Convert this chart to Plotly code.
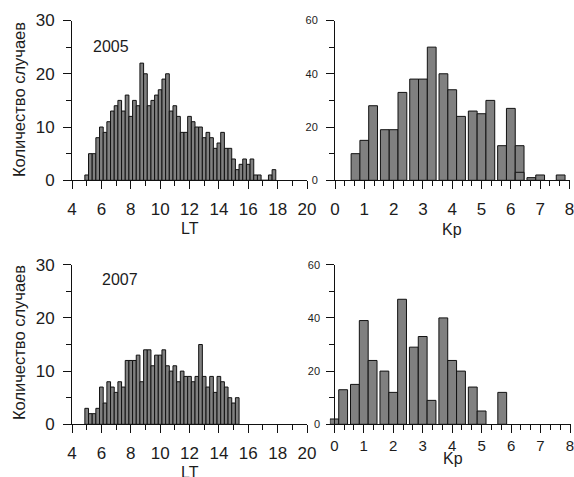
import plotly.graph_objects as go

# ---------------- data ----------------
lt_2005_x = [5.0, 5.25, 5.5, 5.75, 6.0, 6.25, 6.5, 6.75, 7.0, 7.25, 7.5, 7.75,
             8.0, 8.25, 8.5, 8.75, 9.0, 9.25, 9.5, 9.75, 10.0, 10.25, 10.5, 10.75,
             11.0, 11.25, 11.5, 11.75, 12.0, 12.25, 12.5, 12.75, 13.0, 13.25, 13.5, 13.75,
             14.0, 14.25, 14.5, 14.75, 15.0, 15.25, 15.5, 15.75, 16.0, 16.25, 16.5, 16.75,
             17.0, 17.25, 17.5, 17.75]
lt_2005_counts = [1, 5, 5, 8, 10, 9, 11, 13, 14, 15, 13, 16,
                  12, 15, 14, 22, 20, 14, 15, 16, 17, 19, 20, 13,
                  14, 12, 9, 9, 12, 11, 10, 10, 8, 9, 8, 6,
                  7, 9, 6, 6, 4, 2, 3, 4, 3, 4, 1, 1,
                  0, 0, 1, 2]

lt_2007_x = [5.0, 5.25, 5.5, 5.75, 6.0, 6.25, 6.5, 6.75, 7.0, 7.25, 7.5, 7.75,
             8.0, 8.25, 8.5, 8.75, 9.0, 9.25, 9.5, 9.75, 10.0, 10.25, 10.5, 10.75,
             11.0, 11.25, 11.5, 11.75, 12.0, 12.25, 12.5, 12.75, 13.0, 13.25, 13.5, 13.75,
             14.0, 14.25, 14.5, 14.75, 15.0, 15.25]
lt_2007_counts = [3, 2, 2, 3, 7, 4, 8, 7, 6, 8, 7, 12,
                  12, 12, 13, 8, 14, 14, 11, 13, 13, 14, 11, 10,
                  11, 8, 10, 9, 9, 8, 9, 15, 9, 7, 9, 6,
                  9, 8, 7, 5, 4, 5]

kp_2005_x = [0.7, 1.0, 1.3, 1.7, 2.0, 2.3, 2.7, 3.0, 3.3, 3.7, 4.0, 4.3,
             4.7, 5.0, 5.3, 5.7, 6.0, 6.3, 6.7, 7.0, 7.7]
kp_2005_counts = [10, 15, 28, 19, 19, 33, 38, 38, 50, 40, 34, 24,
                  26, 25, 30, 13, 27, 13, 1, 2, 2]
kp_2005_extra_x = [6.3]
kp_2005_extra_counts = [3]

kp_2007_x = [0.0, 0.3, 0.7, 1.0, 1.3, 1.7, 2.0, 2.3, 2.7, 3.0, 3.3, 3.7,
             4.0, 4.3, 4.7, 5.0, 5.7]
kp_2007_counts = [2, 13, 15, 39, 24, 20, 12, 47, 29, 33, 9, 40,
                  24, 20, 14, 5, 12]

lt_ticks = [4, 6, 8, 10, 12, 14, 16, 18, 20]
kp_ticks = [0, 1, 2, 3, 4, 5, 6, 7, 8]
y_title = "Количество случаев"
x_title_lt = "LT"
x_title_kp = "Kp"
years = ["2005", "2007"]

# ---------------- style ----------------
W, H = 574, 477
FILL = "#808080"
EDGE = "#111111"
TXT = "#1c1c1c"
FONT = "Liberation Sans, Arial, sans-serif"


def px(x):
    return x / W


def py(y):
    return 1 - y / H


bar_style = dict(marker=dict(color=FILL, line=dict(color=EDGE, width=1)), showlegend=False,
                 hoverinfo="x+y")

fig = go.Figure()
fig.add_trace(go.Bar(x=lt_2005_x, y=lt_2005_counts, width=0.25, xaxis="x", yaxis="y", **bar_style))
fig.add_trace(go.Bar(x=kp_2005_x, y=kp_2005_counts, width=0.3, xaxis="x2", yaxis="y2", **bar_style))
fig.add_trace(go.Bar(x=kp_2005_extra_x, y=kp_2005_extra_counts, width=0.3, xaxis="x2", yaxis="y2", **bar_style))
fig.add_trace(go.Bar(x=lt_2007_x, y=lt_2007_counts, width=0.25, xaxis="x3", yaxis="y3", **bar_style))
fig.add_trace(go.Bar(x=kp_2007_x, y=kp_2007_counts, width=0.3, xaxis="x4", yaxis="y4", **bar_style))


def xaxis(domain, rng, anchor, tickvals, minor_dtick, size, standoff):
    return dict(domain=domain, range=rng, anchor=anchor, showline=True, linecolor=EDGE, linewidth=1,
                ticks="outside", ticklen=8, tickwidth=1, tickcolor=EDGE,
                tickmode="array", tickvals=tickvals, ticktext=[str(v) for v in tickvals],
                minor=dict(dtick=minor_dtick, tick0=0, ticks="outside", ticklen=5, tickwidth=1,
                           tickcolor=EDGE),
                tickfont=dict(size=size, color=TXT, family=FONT), ticklabelstandoff=standoff,
                ticklabeloverflow="allow",
                showgrid=False, zeroline=False, fixedrange=True, automargin=False)


def yaxis(domain, rng, anchor, dtick, minor_dtick, size, standoff, position=None):
    d = dict(domain=domain, range=rng, anchor=anchor, showline=True, linecolor=EDGE, linewidth=1,
             ticks="outside", ticklen=8, tickwidth=1, tickcolor=EDGE, dtick=dtick, tick0=0,
             minor=dict(dtick=minor_dtick, tick0=0, ticks="outside", ticklen=5, tickwidth=1,
                        tickcolor=EDGE),
             tickfont=dict(size=size, color=TXT, family=FONT), ticklabelstandoff=standoff,
             ticklabeloverflow="allow",
             showgrid=False, zeroline=False, fixedrange=True, automargin=False)
    if position is not None:
        d["position"] = position
    return d


top_y = [py(180.3), py(20.5)]
bot_y = [py(424.3), py(264.7)]
left_x = [px(72), px(307)]
kp4_scale = (570 - 334.3) / 8.0

fig.update_layout(
    width=W, height=H, autosize=False,
    margin=dict(l=0, r=0, t=0, b=0, pad=0),
    paper_bgcolor="white", plot_bgcolor="white",
    barmode="overlay",
    font=dict(family=FONT, color=TXT),
    xaxis=xaxis(left_x, [4, 20], "y", lt_ticks, 1, 17, 5),
    yaxis=yaxis(top_y, [0, 30], "x", 10, 5, 17, 5),
    xaxis2=xaxis([px(335), px(569.6)], [0, 8.005], "y2", kp_ticks, 1 / 3, 17, 5),
    yaxis2=yaxis(top_y, [0, 60], "x2", 20, 10, 11, 6),
    xaxis3=xaxis(left_x, [4, 20], "y3", lt_ticks, 1, 17, 5),
    yaxis3=yaxis(bot_y, [0, 30], "x3", 10, 5, 17, 5),
    xaxis4=xaxis([px(334.3 - 0.15 * kp4_scale), px(570 + 0.02 * kp4_scale)], [-0.15, 8.02], "y4",
                 kp_ticks, 1 / 3, 15, 0),
    yaxis4=yaxis(bot_y, [0, 60], "free", 20, 10, 11, 4, position=px(334.3)),
)

ann = []


def add_text(text, x, y, size, angle=0):
    ann.append(dict(text=text, x=px(x), y=py(y), xref="paper", yref="paper", showarrow=False,
                    xanchor="center", yanchor="middle", textangle=angle,
                    font=dict(size=size, color=TXT, family=FONT)))


add_text(y_title, 19, 100, 16.5, -90)
add_text(y_title, 19, 343, 16.5, -90)
add_text(x_title_lt, 189.5, 228.5, 16)
add_text(x_title_kp, 452, 229, 16)
add_text(x_title_lt, 189.5, 472, 16)
add_text(x_title_kp, 452.5, 458, 16)
add_text(years[0], 110.5, 46.5, 16)
add_text(years[1], 119.5, 279, 16)

fig.update_layout(annotations=ann)

# remove the browser's default page margin so the figure fills the window exactly
fig.write_html("out.html",
               config={"displayModeBar": False, "staticPlot": True},
               post_script="document.body.style.margin='0';document.body.style.overflow='hidden';")
